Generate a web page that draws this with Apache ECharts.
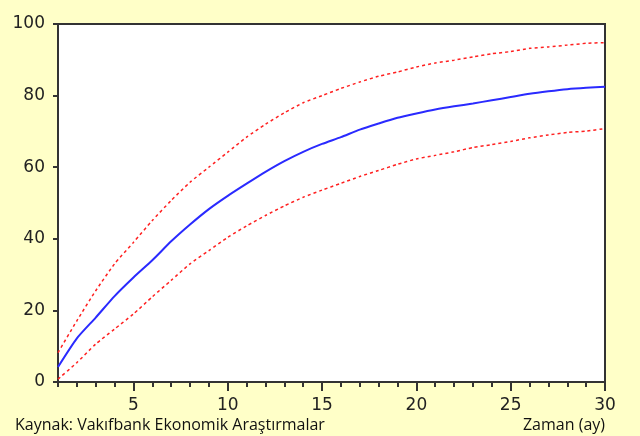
<!DOCTYPE html>
<html><head><meta charset="utf-8">
<script src="https://cdn.jsdelivr.net/npm/echarts@6/dist/echarts.min.js"></script>
<style>html,body{margin:0;padding:0;background:#FFFFC8;}#c{width:640px;height:436px;}</style>
</head><body><div id="c"></div>
<script>
const months = Array.from({length:30},(_,i)=>String(i+1));
const meanValues = [4.2, 12.2, 18.0, 24.0, 29.2, 34.0, 39.3, 44.0, 48.3, 52.0, 55.4, 58.7, 61.7, 64.3, 66.5, 68.4, 70.5, 72.2, 73.8, 75.0, 76.1, 77.0, 77.8, 78.7, 79.6, 80.5, 81.2, 81.8, 82.2, 82.5];
const upperValues = [8.2, 17.1, 25.5, 33.0, 39.0, 45.1, 50.7, 55.8, 60.0, 64.2, 68.4, 72.0, 75.2, 78.0, 80.0, 82.0, 83.8, 85.4, 86.6, 88.0, 89.1, 89.9, 90.8, 91.7, 92.3, 93.2, 93.6, 94.1, 94.6, 94.8];
const lowerValues = [0.8, 5.4, 10.6, 14.8, 19.0, 23.8, 28.4, 33.0, 36.7, 40.4, 43.6, 46.5, 49.2, 51.6, 53.6, 55.5, 57.4, 59.1, 60.8, 62.3, 63.3, 64.3, 65.5, 66.3, 67.2, 68.2, 69.0, 69.7, 70.1, 70.8];
const yTicks = [0, 20, 40, 60, 80, 100];
const sourceText = 'Kaynak: Vakıfbank Ekonomik Araştırmalar';
const xTitle = 'Zaman (ay)';

const chart = echarts.init(document.getElementById('c'), null, {renderer:'canvas'});
const labelFont = {fontFamily:'DejaVu Sans', fontSize:17, color:'#222'};
chart.setOption({
  backgroundColor:'#FFFFC8',
  animation:false,
  grid:{left:58, top:24, right:35, bottom:54, show:true, backgroundColor:'#ffffff', borderColor:'#333', borderWidth:2},
  xAxis:[{
    type:'category', data:months, boundaryGap:false,
    axisLine:{show:true, lineStyle:{color:'#333', width:2}},
    axisTick:{show:true, interval:0, length:5, lineStyle:{color:'#333', width:2}},
    axisLabel:Object.assign({interval:(i,v)=>Number(v)%5===0, margin:15}, labelFont),
    splitLine:{show:false}
  },{
    type:'category', data:months, boundaryGap:false, position:'bottom',
    axisLine:{show:false},
    axisTick:{show:true, interval:(i,v)=>Number(v)%5===0, length:9, lineStyle:{color:'#333', width:2}},
    axisLabel:{show:false},
    splitLine:{show:false}
  }],
  yAxis:{
    type:'value', min:yTicks[0], max:yTicks[yTicks.length-1], interval:20,
    axisLine:{show:true, lineStyle:{color:'#333', width:2}},
    axisTick:{show:true, length:5, lineStyle:{color:'#333', width:2}},
    axisLabel:Object.assign({margin:13}, labelFont),
    splitLine:{show:false}
  },
  graphic:[
    {type:'text', left:15, top:417, style:{text:sourceText, fontFamily:'Open Sans', fontSize:16, fill:'#111'}},
    {type:'text', right:35, top:417, style:{text:xTitle, fontFamily:'Open Sans', fontSize:16, fill:'#111'}}
  ],
  series:[
    {type:'line', data:upperValues, symbol:'none', smooth:0.2, lineStyle:{color:'#FF2020', width:1.5, type:[3,3]}},
    {type:'line', data:meanValues, symbol:'none', smooth:0.2, lineStyle:{color:'#2a2aFF', width:2}},
    {type:'line', data:lowerValues, symbol:'none', smooth:0.2, lineStyle:{color:'#FF2020', width:1.5, type:[3,3]}}
  ]
});
</script></body></html>
